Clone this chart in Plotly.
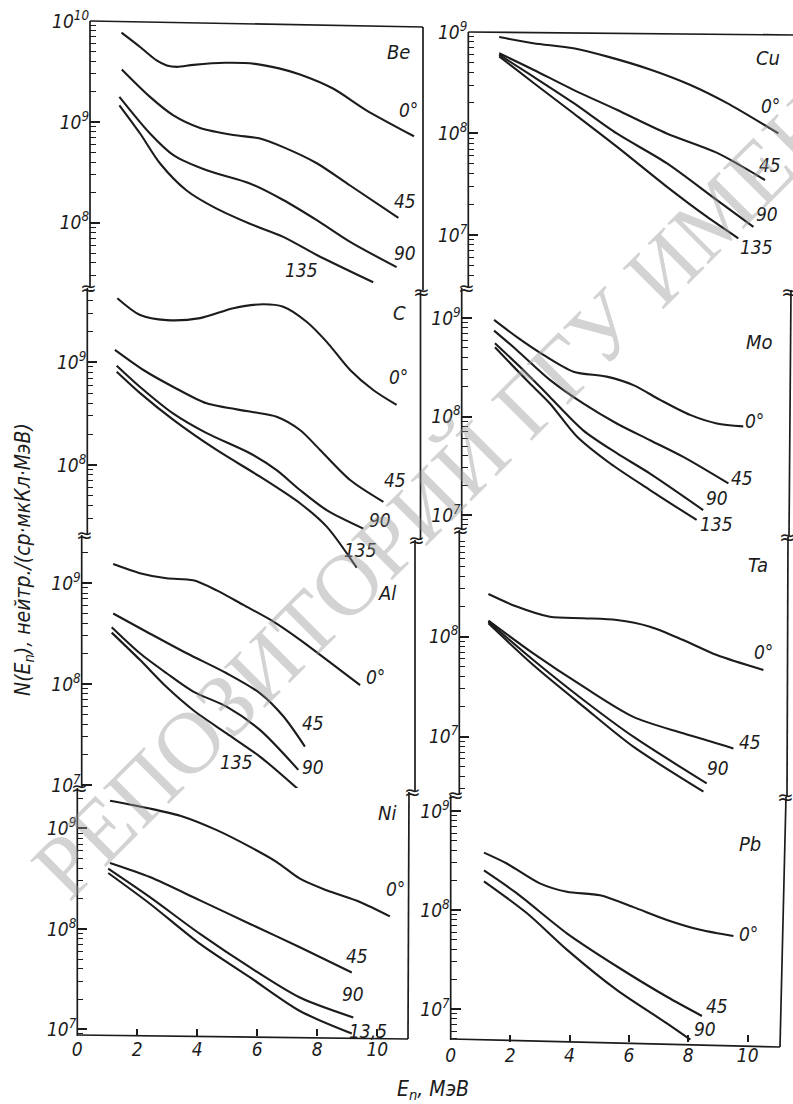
import math
import plotly.graph_objects as go

W, H = 793, 1104

# ---------------- data (E in MeV, N in neutrons/(sr*uC*MeV)) ----------------
be_E0 = [1.05, 1.67, 2.22, 2.56, 2.9, 3.45, 4.5, 5.5, 6.3, 7.0, 8.1, 9.2, 10.8]
be_N0 = [7.67e9, 5.53e9, 4.07e9, 3.63e9, 3.51e9, 3.67e9, 3.85e9, 3.76e9, 3.39e9, 2.95e9, 2.14e9, 1.31e9, 7.2e8]
be_E45 = [1.06, 2.0, 2.78, 3.67, 4.78, 5.67, 6.44, 7.56, 8.67, 10.28]
be_N45 = [3.31e9, 1.77e9, 1.16e9, 8.71e8, 7.41e8, 6.84e8, 5.62e8, 3.89e8, 2.34e8, 1.12e8]
be_E90 = [0.98, 2.0, 2.78, 3.89, 5.33, 6.44, 7.56, 8.67, 10.22]
be_N90 = [1.77e9, 7.67e8, 4.68e8, 3.31e8, 2.45e8, 1.68e8, 1.06e8, 6.46e7, 3.63e7]
be_E135 = [0.98, 1.67, 2.33, 3.22, 4.22, 5.33, 6.44, 7.56, 9.44]
be_N135 = [1.46e9, 7.67e8, 3.89e8, 2.09e8, 1.38e8, 9.77e7, 7.24e7, 4.79e7, 2.57e7]

c_E0 = [1.0, 1.76, 2.65, 3.76, 4.87, 5.87, 6.53, 7.31, 7.98, 8.76, 9.53, 10.31]
c_N0 = [4.2e9, 2.88e9, 2.57e9, 2.69e9, 3.36e9, 3.67e9, 3.47e9, 2.48e9, 1.58e9, 8.41e8, 5.37e8, 3.84e8]
c_E45 = [0.92, 1.87, 2.87, 3.98, 5.42, 6.31, 7.09, 7.76, 8.76, 9.87]
c_N45 = [1.32e9, 8.41e8, 5.75e8, 3.98e8, 3.31e8, 2.95e8, 2.19e8, 1.4e8, 7.14e7, 4.37e7]
c_E90 = [0.98, 1.76, 2.87, 3.98, 5.42, 6.31, 7.09, 7.98, 9.2]
c_N90 = [9.27e8, 5.75e8, 3.16e8, 2.04e8, 1.3e8, 8.91e7, 5.71e7, 3.63e7, 2.4e7]
c_E135 = [0.98, 1.76, 2.87, 4.31, 5.76, 7.09, 7.98, 8.98]
c_N135 = [8.09e8, 5.01e8, 2.75e8, 1.4e8, 7.69e7, 4.24e7, 2.51e7, 1.0e7]

al_E0 = [1.05, 1.94, 2.83, 3.72, 4.5, 5.39, 6.39, 7.28, 8.17, 9.28]
al_N0 = [1.55e9, 1.26e9, 1.12e9, 1.07e9, 8.51e8, 6.1e8, 4.17e8, 2.75e8, 1.74e8, 9.77e7]
al_E45 = [1.05, 2.28, 3.5, 4.83, 5.94, 6.72, 7.44]
al_N45 = [5.01e8, 3.16e8, 2.02e8, 1.28e8, 8.13e7, 4.79e7, 2.4e7]
al_E90 = [1.0, 1.94, 2.83, 3.72, 4.83, 5.94, 7.22]
al_N90 = [3.66e8, 2.02e8, 1.28e8, 8.41e7, 5.97e7, 3.51e7, 1.41e7]
al_E135 = [1.0, 1.94, 2.83, 3.72, 4.83, 5.94, 7.28]
al_N135 = [3.24e8, 1.74e8, 9.33e7, 5.5e7, 3.24e7, 1.91e7, 8.71e6]

ni_E0 = [1.09, 2.42, 3.53, 4.65, 5.76, 6.65, 7.42, 8.31, 9.42, 10.42]
ni_N0 = [1.89e9, 1.58e9, 1.31e9, 9.62e8, 6.55e8, 4.63e8, 3.16e8, 2.42e8, 1.85e8, 1.33e8]
ni_E45 = [1.09, 2.42, 4.09, 5.76, 7.42, 9.15]
ni_N45 = [4.53e8, 3.28e8, 1.92e8, 1.12e8, 6.55e7, 3.68e7]
ni_E90 = [1.03, 2.42, 4.09, 5.76, 7.42, 9.2]
ni_N90 = [3.98e8, 2.07e8, 8.91e7, 4.13e7, 2.07e7, 1.31e7]
ni_E135 = [1.03, 2.42, 4.09, 5.76, 7.42, 9.15]
ni_N135 = [3.6e8, 1.78e8, 7.08e7, 3.28e7, 1.52e7, 9.06e6]

cu_E0 = [1.04, 2.19, 3.54, 4.66, 6.12, 7.46, 8.7, 10.44]
cu_N0 = [8.91e8, 7.76e8, 6.92e8, 5.75e8, 4.27e8, 3.02e8, 2.0e8, 1.0e8]
cu_E45 = [1.04, 2.19, 3.54, 5.0, 6.68, 8.36, 9.99]
cu_N45 = [6.17e8, 4.25e8, 2.69e8, 1.71e8, 1.0e8, 6.46e7, 3.47e7]
cu_E90 = [1.04, 2.19, 3.54, 5.0, 6.68, 8.36, 9.6]
cu_N90 = [5.97e8, 3.63e8, 2.0e8, 1.0e8, 5.09e7, 2.21e7, 1.2e7]
cu_E135 = [1.04, 2.19, 3.54, 5.0, 6.68, 8.03, 9.09]
cu_N135 = [5.75e8, 3.16e8, 1.58e8, 7.41e7, 2.99e7, 1.51e7, 9.25e6]

mo_E0 = [1.09, 1.85, 2.75, 3.76, 4.88, 5.78, 6.68, 7.69, 8.59, 9.48]
mo_N0 = [9.62e8, 6.46e8, 4.24e8, 2.86e8, 2.55e8, 2.09e8, 1.48e8, 1.04e8, 8.51e7, 7.94e7]
mo_E45 = [1.09, 1.85, 2.97, 4.09, 5.22, 6.34, 7.46, 8.98]
mo_N45 = [7.48e8, 4.76e8, 2.36e8, 1.36e8, 8.51e7, 5.75e7, 3.89e7, 2.09e7]
mo_E90 = [1.12, 2.19, 2.97, 4.09, 5.22, 6.34, 8.13]
mo_N90 = [5.57e8, 2.75e8, 1.58e8, 7.24e7, 4.24e7, 2.63e7, 1.12e7]
mo_E135 = [1.12, 2.19, 2.97, 3.87, 4.99, 6.34, 7.91]
mo_N135 = [5.07e8, 2.34e8, 1.36e8, 6.31e7, 3.35e7, 1.79e7, 8.87e6]

ta_E0 = [0.98, 1.93, 3.05, 4.18, 5.3, 6.42, 7.54, 8.67, 10.24]
ta_N0 = [2.67e8, 2.0e8, 1.58e8, 1.53e8, 1.47e8, 1.26e8, 9.27e7, 6.56e7, 4.65e7]
ta_E45 = [0.98, 2.49, 4.18, 5.86, 7.54, 9.23]
ta_N45 = [1.45e8, 6.81e7, 3.16e7, 1.58e7, 1.08e7, 7.64e6]
ta_E90 = [0.98, 2.49, 4.18, 5.86, 8.33]
ta_N90 = [1.41e8, 5.85e7, 2.33e7, 1.0e7, 3.41e6]
ta_E135 = [0.98, 2.49, 4.18, 5.86, 8.22]
ta_N135 = [1.36e8, 5.21e7, 2.0e7, 7.94e6, 2.82e6]

pb_E0 = [1.12, 1.89, 3.0, 3.91, 5.03, 6.15, 7.28, 8.4, 9.52]
pb_N0 = [3.8e8, 2.95e8, 1.86e8, 1.53e8, 1.41e8, 1.07e8, 7.94e7, 6.31e7, 5.46e7]
pb_E45 = [1.12, 2.22, 3.91, 5.6, 7.28, 8.46]
pb_N45 = [2.51e8, 1.48e8, 5.82e7, 2.69e7, 1.33e7, 8.51e6]
pb_E90 = [1.12, 2.56, 3.91, 5.6, 7.28, 8.07]
pb_N90 = [1.95e8, 9.33e7, 3.98e7, 1.55e7, 7.16e6, 4.9e6]

x_ticks = [0, 2, 4, 6, 8, 10]

# ---------------- layout of the panels (pixels) ----------------
FONT = "Liberation Sans Narrow, DejaVu Sans Condensed, Liberation Sans, Arial, sans-serif"
INK = "#1c1c1c"

panels = [
    dict(name="Be", series=[(be_E0, be_N0), (be_E45, be_N45), (be_E90, be_N90), (be_E135, be_N135)],
         box=(90, 423, 21, 287), scale=30, yr=(7.363, 10.0), tlo=7.363, major=[8, 9, 10], bottom=False,
         labels=[("Be", 10.27, 9.69), ("0°", 10.6, 9.12), ("45", 10.5, 8.22), ("90", 10.5, 7.70), ("135", 7.06, 7.53)]),
    dict(name="C", series=[(c_E0, c_N0), (c_E45, c_N45), (c_E90, c_N90), (c_E135, c_N135)],
         box=(87.3, 420.5, 288, 575), scale=30, yr=(6.929, 9.723), tlo=7.32, major=[8, 9], bottom=False,
         labels=[("C", 10.42, 9.477), ("0°", 10.37, 8.86), ("45", 10.26, 7.854), ("90", 9.76, 7.465), ("135", 9.09, 7.17)]),
    dict(name="Al", series=[(al_E0, al_N0), (al_E45, al_N45), (al_E90, al_N90), (al_E135, al_N135)],
         box=(81.7, 415, 535, 788), scale=30, yr=(6.969, 9.479), tlo=6.969, major=[7, 8, 9], bottom=False,
         labels=[("Al", 10.17, 8.90), ("0°", 9.78, 8.073), ("45", 7.72, 7.61), ("90", 7.72, 7.18), ("135", 5.17, 7.23)]),
    dict(name="Ni", series=[(ni_E0, ni_N0), (ni_E45, ni_N45), (ni_E90, ni_N90), (ni_E135, ni_N135)],
         box=(77.3, 407.5, 788, 1036), scale=30, yr=(6.933, 9.403), tlo=6.933, major=[7, 8, 9], bottom=True,
         labels=[("Ni", 10.31, 9.15), ("0°", 10.59, 8.40), ("45", 9.31, 7.73), ("90", 9.2, 7.35), ("13,5", 9.7, 6.98)]),
    dict(name="Cu", series=[(cu_E0, cu_N0), (cu_E45, cu_N45), (cu_E90, cu_N90), (cu_E135, cu_N135)],
         box=(468.3, 793, 32, 288), scale=29.7, yr=(6.476, 9.0), tlo=6.476, major=[7, 8, 9], bottom=False,
         labels=[("Cu", 10.1, 8.74), ("0°", 10.16, 8.27), ("45", 10.16, 7.69), ("90", 10.05, 7.21), ("135", 9.71, 6.88)]),
    dict(name="Mo", series=[(mo_E0, mo_N0), (mo_E45, mo_N45), (mo_E90, mo_N90), (mo_E135, mo_N135)],
         box=(461.7, 789, 288, 530), scale=29.7, yr=(6.846, 9.308), tlo=6.846, major=[7, 8, 9], bottom=False,
         labels=[("Mo", 10.04, 8.76), ("0°", 9.87, 7.95), ("45", 9.43, 7.37), ("90", 8.59, 7.17), ("135", 8.59, 6.91)]),
    dict(name="Ta", series=[(ta_E0, ta_N0), (ta_E45, ta_N45), (ta_E90, ta_N90), (ta_E135, ta_N135)],
         box=(459.3, 787, 530, 795), scale=29.7, yr=(6.417, 9.067), tlo=6.417, major=[7, 8], bottom=False,
         labels=[("Ta", 10.07, 8.717), ("0°", 10.24, 7.85), ("45", 9.79, 6.95), ("90", 8.72, 6.683), ("135", 8.83, 6.41)]),
    dict(name="Pb", series=[(pb_E0, pb_N0), (pb_E45, pb_N45), (pb_E90, pb_N90)],
         box=(450.7, 780, 795, 1042), scale=29.7, yr=(6.667, 9.162), tlo=6.667, major=[7, 8, 9], bottom=True,
         labels=[("Pb", 10.09, 8.67), ("0°", 10.03, 7.76), ("45", 8.97, 7.03), ("90", 8.57, 6.8)]),
]


def px(x):
    return x / W


def py(y):
    return 1 - y / H


fig = go.Figure()
layout = dict(width=W, height=H, margin=dict(l=0, r=0, t=0, b=0, pad=0, autoexpand=False),
              template="none",
              paper_bgcolor="white", plot_bgcolor="rgba(0,0,0,0)", showlegend=False)
annotations = []
shapes = []

for i, p in enumerate(panels, start=1):
    sfx = "" if i == 1 else str(i)
    l, r, t, b = p["box"]
    lo, hi = p["yr"]
    xr = (r - l) / p["scale"]
    for E, N in p["series"]:
        fig.add_trace(go.Scatter(x=E, y=N, mode="lines", xaxis="x" + sfx, yaxis="y" + sfx,
                                 line=dict(color=INK, width=2.1, shape="spline", smoothing=0.8),
                                 hoverinfo="skip"))
    minor = []
    for d in range(int(math.floor(p["tlo"])), int(math.ceil(hi)) + 1):
        for m in range(2, 10):
            v = m * 10 ** d
            if p["tlo"] <= math.log10(v) <= hi:
                minor.append(v)
    layout["xaxis" + sfx] = dict(
        domain=[px(l), px(r)], range=[0, xr], anchor="y" + sfx, automargin=False,
        showgrid=False, zeroline=False, showline=False,
        tickmode="array", tickvals=x_ticks if p["bottom"] else [],
        ticktext=[str(v) for v in x_ticks] if p["bottom"] else [],
        ticks="inside" if p["bottom"] else "", ticklen=7, tickwidth=1.5, tickcolor=INK,
        showticklabels=p["bottom"],
        tickfont=dict(family=FONT, size=19, color=INK, style="italic"),
    )
    layout["yaxis" + sfx] = dict(
        type="log", domain=[py(b), py(t)], range=[lo, hi], anchor="x" + sfx, automargin=False,
        showgrid=False, zeroline=False, showline=False,
        tickmode="array", tickvals=[10 ** k for k in p["major"]],
        ticktext=["10<sup>%d</sup>" % k for k in p["major"]],
        ticks="inside", ticklen=10, tickwidth=1.5, tickcolor=INK,
        minor=dict(tickmode="array", tickvals=minor, ticks="inside", ticklen=6,
                   tickwidth=1.3, tickcolor=INK, showgrid=False),
        tickfont=dict(family=FONT, size=19, color=INK, style="italic"),
    )
    for text, xe, yl in p["labels"]:
        annotations.append(dict(text=text, x=xe, y=yl, xref="x" + sfx, yref="y" + sfx,
                                showarrow=False, xanchor="center", yanchor="middle",
                                font=dict(family=FONT, size=20 if text == p["name"] else 19,
                                          color=INK, style="italic")))

# frame lines (scan is slightly skewed)
frame = [
    (90, 21, 90, 287), (423, 27, 423, 290), (87.3, 288, 87.3, 535), (420.5, 290, 420.5, 540),
    (81.7, 535, 81.7, 788), (415, 540, 415, 792), (77.3, 788, 77.3, 1036), (409, 792, 408, 1039),
    (90, 21, 423, 27), (77.3, 1035, 408, 1039),
    (468.3, 32, 468.3, 288), (461.7, 288, 461.7, 530), (791, 290, 789, 537),
    (459.3, 530, 459.3, 795), (788, 537, 787, 797), (450.7, 795, 450.7, 1040), (786, 797, 780, 1047),
    (468.3, 32, 793, 35), (450.7, 1039, 780, 1047),
]
for x0, y0, x1, y1 in frame:
    shapes.append(dict(type="line", xref="paper", yref="paper", x0=px(x0), y0=py(y0),
                       x1=px(x1), y1=py(y1), line=dict(color=INK, width=1.7)))

# axis break marks
breaks = [(88.5, 288), (84.5, 535), (79.5, 788), (421.5, 292), (417, 540), (412, 792),
          (466, 288), (460.5, 530), (455, 795), (789, 292), (787, 537), (785, 797)]
for bx, by in breaks:
    annotations.append(dict(text="≈", x=px(bx), y=py(by), xref="paper", yref="paper",
                            showarrow=False, xanchor="center", yanchor="middle",
                            font=dict(family="DejaVu Sans", size=20, color=INK)))

# axis titles
annotations.append(dict(text="N(E<sub>n</sub>), нейтр./(ср·мкКл·МэВ)", x=px(24), y=py(560),
                        xref="paper", yref="paper", showarrow=False, textangle=-90,
                        xanchor="center", yanchor="middle",
                        font=dict(family=FONT, size=21, color=INK, style="italic")))
annotations.append(dict(text="E<sub>n</sub>, МэВ", x=px(433), y=py(1090),
                        xref="paper", yref="paper", showarrow=False,
                        xanchor="center", yanchor="middle",
                        font=dict(family=FONT, size=21, color=INK, style="italic")))

# repository watermark
annotations.append(dict(text="РЕПОЗИТОРИЙ ГГУ ИМЕНИ", x=px(458), y=py(472),
                        xref="paper", yref="paper", showarrow=False, textangle=-45,
                        xanchor="center", yanchor="middle",
                        font=dict(family="Liberation Serif", size=88, color="rgba(150,150,150,0.42)")))

layout["annotations"] = annotations
layout["shapes"] = shapes
fig.update_layout(**layout)
fig.write_html("out.html", config={"responsive": False, "displayModeBar": False},
               post_script="document.body.style.margin='0px';document.body.style.padding='0px';")
